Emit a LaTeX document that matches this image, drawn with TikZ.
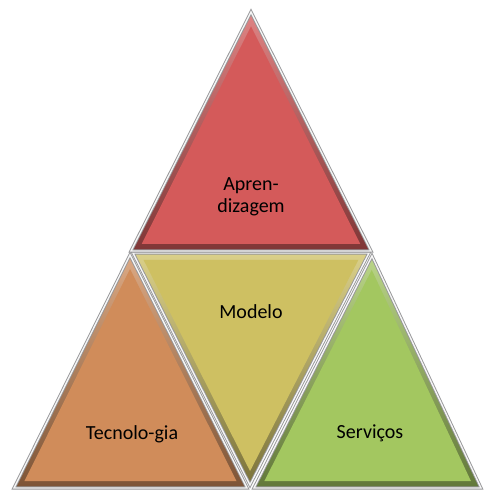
\documentclass[tikz,border=0pt]{standalone}
\usepackage{fontspec}
\setmainfont{Carlito}
\usetikzlibrary{calc}
\definecolor{redface}{RGB}{212,90,90}
\definecolor{yellowface}{RGB}{206,192,98}
\definecolor{orangeface}{RGB}{208,140,90}
\definecolor{greenface}{RGB}{163,199,96}
\definecolor{rim}{RGB}{150,150,152}
% one bevelled triangle: #1 colour, #2 #3 #4 corner names, #5 name of the face node
\newcommand\facetri[5]{%
  \coordinate (#5c) at (barycentric cs:#2=1,#3=1,#4=1);
  \shade[top color=#1!75!white, bottom color=#1!60!black]
    (#2) -- (#3) -- (#4) -- cycle;
  \fill[#1]
    ($(#5c)!0.91!(#2)$) -- ($(#5c)!0.91!(#3)$) -- ($(#5c)!0.91!(#4)$) -- cycle;
  \draw[rimout] (#2) -- (#3) -- (#4) -- cycle;
  \draw[rimin] (#2) -- (#3) -- (#4) -- cycle;
}
\begin{document}
\begin{tikzpicture}[x=1pt,y=1pt,
  rimout/.style={draw=rim, line width=3.2pt, line join=miter},
  rimin/.style={draw=white!92!gray, line width=1.4pt, line join=miter},
  lbl/.style={align=center, text=black, inner sep=0pt,
    font=\fontsize{20}{22}\selectfont}]
\useasboundingbox (0,0) rectangle (483,491);
\fill[white] (0,0) rectangle (483,491);

% corners
\coordinate (r1) at (251,479);
\coordinate (r2) at (131,240);
\coordinate (r3) at (371,240);
\coordinate (y1) at (133,238);
\coordinate (y2) at (369,238);
\coordinate (y3) at (250,6);
\coordinate (o1) at (130,236);
\coordinate (o2) at (14,3);
\coordinate (o3) at (247,3);
\coordinate (g1) at (372,235);
\coordinate (g2) at (254,3);
\coordinate (g3) at (481,3);

\facetri{orangeface}{o1}{o2}{o3}{tech}
\facetri{greenface}{g1}{g2}{g3}{serv}
\facetri{yellowface}{y1}{y2}{y3}{mod}
\facetri{redface}{r1}{r2}{r3}{apr}

\node[lbl] (aprtxt) at (251,294) {Apren-\\dizagem};
\node[lbl] (modtxt) at (251,179) {Modelo};
\node[lbl] (techtxt) at (132,57) {Tecnolo-gia};
\node[lbl] (servtxt) at (370,58) {Serviços};
\end{tikzpicture}
\end{document}
